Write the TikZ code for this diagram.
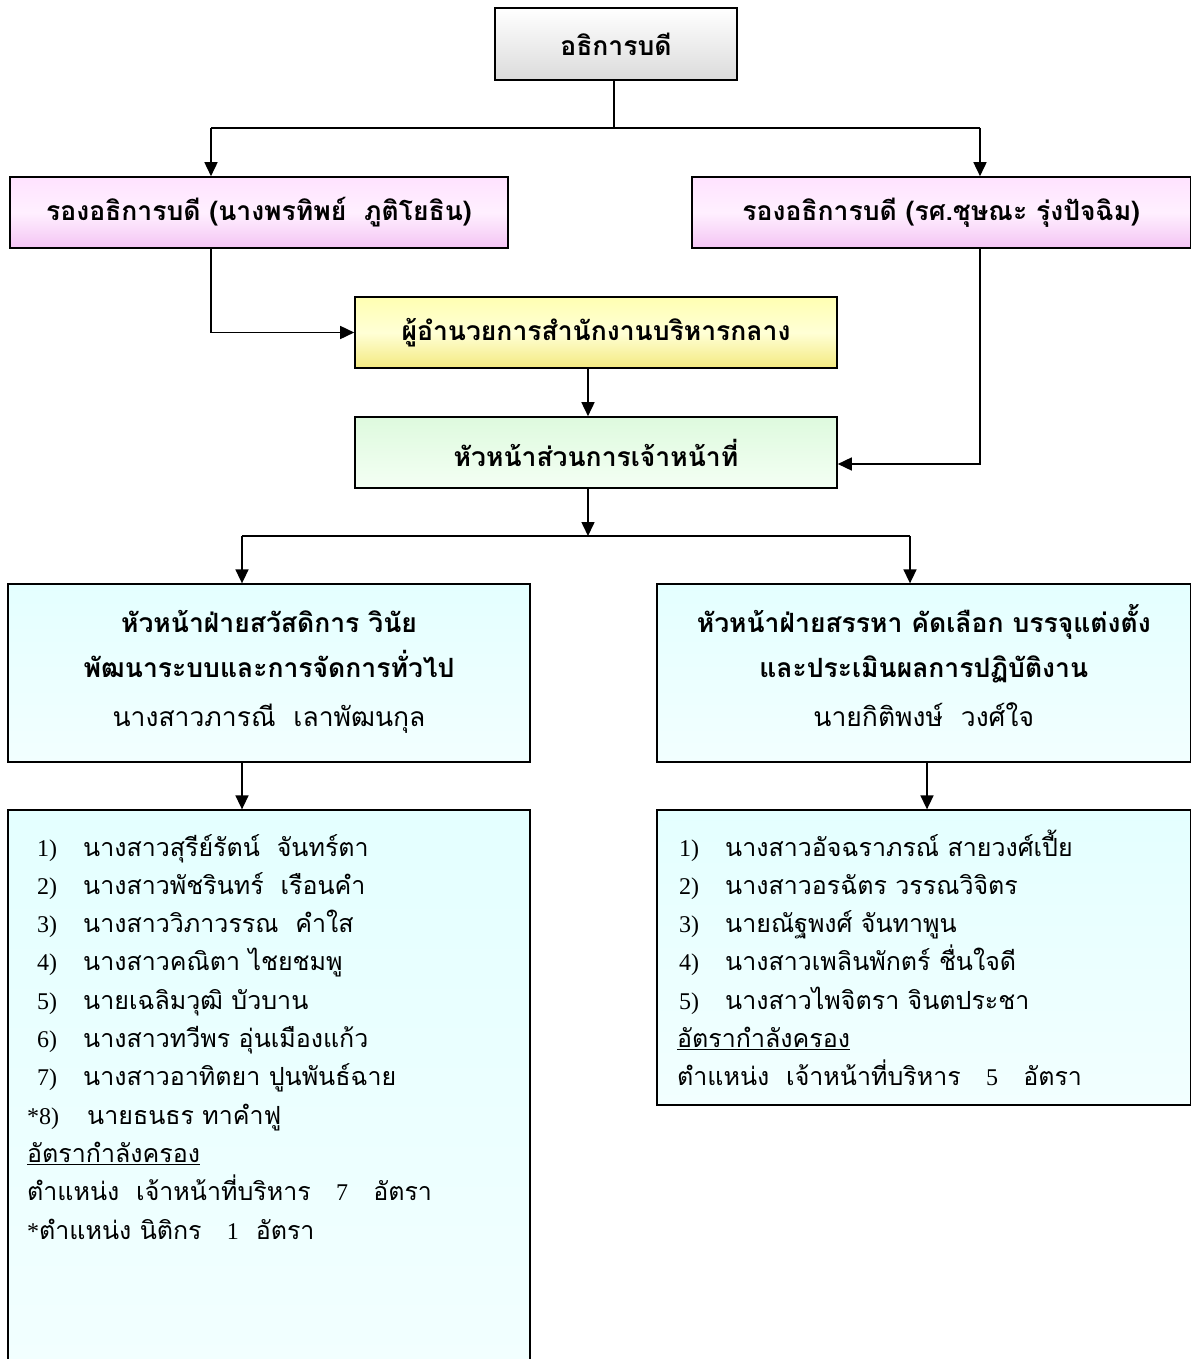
\documentclass[tikz,border=0pt]{standalone}
\usepackage{fontspec}
\setmainfont{Loma}[Script=Thai]
\newfontfamily\numfont{Liberation Serif}[Scale=0.96]
\usetikzlibrary{positioning,arrows.meta}

\definecolor{pinktop}{RGB}{255,226,255}
\definecolor{pinkmid}{RGB}{255,240,255}
\definecolor{pinkbot}{RGB}{244,196,244}
\definecolor{yeltop}{RGB}{255,255,178}
\definecolor{yelmid}{RGB}{255,255,214}
\definecolor{yelbot}{RGB}{244,234,128}
\definecolor{grntop}{RGB}{222,250,222}
\definecolor{grnbot}{RGB}{244,255,244}
\definecolor{cyntop}{RGB}{228,255,255}
\definecolor{cynbot}{RGB}{242,255,255}

\newcommand{\no}[2][46pt]{\makebox[#1][l]{\numfont #2}}
\newcommand{\tops}{\rule{0pt}{34pt}}
\newcommand{\bots}{\rule[-22pt]{0pt}{22pt}}

\begin{document}
\begin{tikzpicture}[x=1pt,y=-1pt,
		box/.style={rectangle,draw=black,line width=1.6pt,inner sep=0pt,
			font=\fontsize{26.5}{30}\selectfont\bfseries},
		topbox/.style={box,top color=white,bottom color=black!14,minimum width=242pt,minimum height=72pt},
		vicebox/.style={box,top color=pinktop,bottom color=pinkbot,middle color=pinkmid,minimum height=71pt},
		dirbox/.style={box,top color=yeltop,bottom color=yelbot,middle color=yelmid,minimum width=482pt,minimum height=71pt},
		hrbox/.style={box,top color=grntop,bottom color=grnbot,minimum width=482pt,minimum height=71pt},
		unitbox/.style={box,line width=1.3pt,top color=cyntop,bottom color=cynbot,align=center,
			minimum height=178pt,font=\fontsize{26.5}{45}\selectfont\bfseries},
		listbox/.style={rectangle,draw=black,line width=1.3pt,top color=cyntop,bottom color=cynbot},
		item/.style={anchor=base west,inner sep=0pt,font=\fontsize{25}{28}\selectfont},
		conn/.style={line width=1.6pt},
		arr/.style={line width=1.6pt,-{Triangle[length=14pt,width=13pt]}}]
	\useasboundingbox (0,0) rectangle (1192,1359);

	% boxes
	\node [topbox] (rector) at (616,44) {อธิการบดี};
	\node [vicebox,minimum width=498pt] (vp1) at (259,212.5) {รองอธิการบดี (นางพรทิพย์~~ภูติโยธิน)};
	\node [vicebox,minimum width=498.5pt] (vp2) at (941.25,212.5) {รองอธิการบดี (รศ.ชุษณะ รุ่งปัจฉิม)};
	\node [dirbox] (dir) at (596,332.5) {ผู้อำนวยการสำนักงานบริหารกลาง};
	\node [hrbox] (hr) at (596,452.5) {หัวหน้าส่วนการเจ้าหน้าที่};
	\node [unitbox,minimum width=522pt] (u1) at (269,673)
		{\tops หัวหน้าฝ่ายสวัสดิการ วินัย\\ พัฒนาระบบและการจัดการทั่วไป\\[4pt] {\mdseries\bots นางสาวภารณี~~เลาพัฒนกุล}};
	\node [unitbox,minimum width=533.5pt] (u2) at (923.75,673)
		{\tops หัวหน้าฝ่ายสรรหา คัดเลือก บรรจุแต่งตั้ง\\ และประเมินผลการปฏิบัติงาน\\[4pt] {\mdseries\bots นายกิติพงษ์~~วงศ์ใจ}};
	\node [listbox,minimum width=522pt,minimum height=554pt] (lst1) at (269,1087) {};
	\node [listbox,minimum width=533.5pt,minimum height=295pt] (lst2) at (923.75,957.5) {};

	% left list
	\node [item] (l1) at (37,856) {\no{1)}นางสาวสุรีย์รัตน์~~จันทร์ตา};
	\node [item] (l2) at (37,894.3) {\no{2)}นางสาวพัชรินทร์~~เรือนคำ};
	\node [item] (l3) at (37,932.6) {\no{3)}นางสาววิภาวรรณ~~คำใส};
	\node [item] (l4) at (37,970.9) {\no{4)}นางสาวคณิตา ไชยชมพู};
	\node [item] (l5) at (37,1009.2) {\no{5)}นายเฉลิมวุฒิ บัวบาน};
	\node [item] (l6) at (37,1047.5) {\no{6)}นางสาวทวีพร อุ่นเมืองแก้ว};
	\node [item] (l7) at (37,1085.8) {\no{7)}นางสาวอาทิตยา ปูนพันธ์ฉาย};
	\node [item] (l8) at (27,1124.1) {\no[60pt]{*8)}นายธนธร ทาคำฟู};
	\node [item] (l9) at (27,1162.4) {\underline{อัตรากำลังครอง}};
	\node [item] (l10) at (27,1200.7) {ตำแหน่ง~~เจ้าหน้าที่บริหาร~~~{\numfont 7}~~~อัตรา};
	\node [item] (l11) at (27,1239) {{\numfont *}ตำแหน่ง นิติกร~~~{\numfont 1}~~อัตรา};

	% right list
	\node [item] (r1) at (679,856) {\no{1)}นางสาวอัจฉราภรณ์ สายวงศ์เปี้ย};
	\node [item] (r2) at (679,894.3) {\no{2)}นางสาวอรฉัตร วรรณวิจิตร};
	\node [item] (r3) at (679,932.6) {\no{3)}นายณัฐพงศ์ จันทาพูน};
	\node [item] (r4) at (679,970.9) {\no{4)}นางสาวเพลินพักตร์ ชื่นใจดี};
	\node [item] (r5) at (679,1009.2) {\no{5)}นางสาวไพจิตรา จินตประชา};
	\node [item] (r6) at (677,1047.5) {\underline{อัตรากำลังครอง}};
	\node [item] (r7) at (677,1085.8) {ตำแหน่ง~~เจ้าหน้าที่บริหาร~~~{\numfont 5}~~~อัตรา};

	% connectors
	\coordinate (t) at (614,128);
	\coordinate (a1) at (211,128);
	\coordinate (a2) at (980,128);
	\draw [conn] (rector.south -| t) -- (t);
	\draw [conn] (a1) -- (a2);
	\draw [arr] (a1) -- (a1 |- vp1.north);
	\draw [arr] (a2) -- (a2 |- vp2.north);

	\coordinate (b1) at (211,332.5);
	\coordinate (b2) at (980,464);
	\coordinate (c) at (588,400);
	\draw [arr] (b1 |- vp1.south) -- (b1) -- (dir.west);
	\draw [arr] (dir.south -| c) -- (hr.north -| c);
	\draw [arr] (b2 |- vp2.south) -- (b2) -- (b2 -| hr.east);

	\coordinate (d) at (588,536);
	\coordinate (d1) at (242,536);
	\coordinate (d2) at (910,536);
	\draw [conn] (d1) -- (d2);
	\draw [arr] (hr.south -| d) -- (d);
	\draw [arr] (d1) -- (d1 |- u1.north);
	\draw [arr] (d2) -- (d2 |- u2.north);

	\coordinate (e1) at (242,786);
	\coordinate (e2) at (927,786);
	\draw [arr] (e1 |- u1.south) -- (e1 |- lst1.north);
	\draw [arr] (e2 |- u2.south) -- (e2 |- lst2.north);
\end{tikzpicture}
\end{document}
